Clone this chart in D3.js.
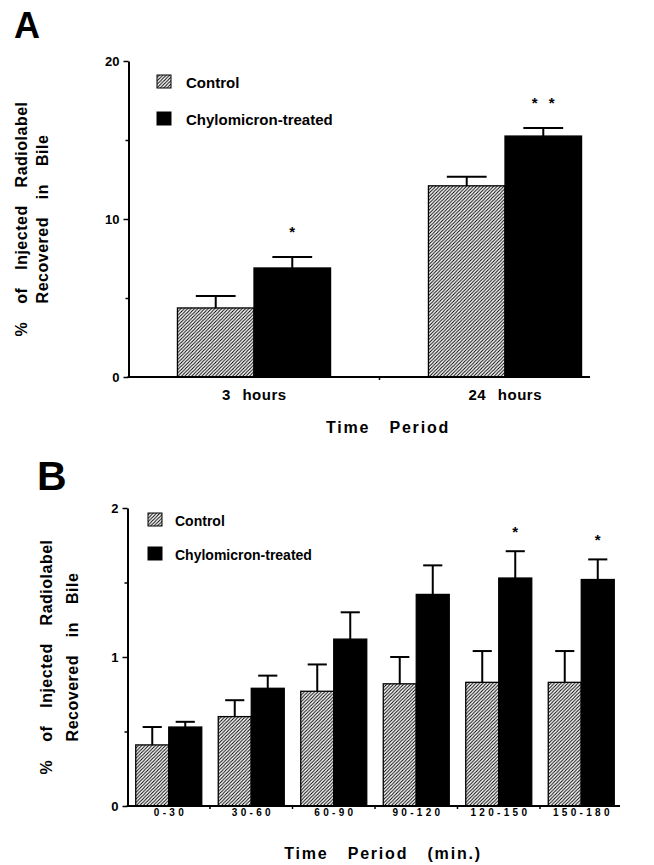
<!DOCTYPE html>
<html>
<head>
<meta charset="utf-8">
<script src="https://cdn.jsdelivr.net/npm/d3@7"></script>
<style>
body { margin: 0; background: #fff; }
text { font-family: "Liberation Sans", Arial, sans-serif; font-weight: bold; fill: #000; }
</style>
</head>
<body>
<svg id="chart"></svg>
<script>
// panel A : 3 h and 24 h
var groupsA = ["3 hours", "24 hours"];
var controlA = [4.37, 12.1];
var controlErrA = [0.76, 0.57];
var chyloA = [6.9, 15.25];
var chyloErrA = [0.7, 0.51];
var starsA = [1, 2];
var yTicksA = [0, 10, 20];
var yMinorA = [5, 15];

// panel B : 30 min periods
var groupsB = ["0-30", "30-60", "60-90", "90-120", "120-150", "150-180"];
var controlB = [0.41, 0.60, 0.77, 0.82, 0.83, 0.83];
var controlErrB = [0.12, 0.11, 0.18, 0.18, 0.21, 0.21];
var chyloB = [0.53, 0.79, 1.12, 1.42, 1.53, 1.52];
var chyloErrB = [0.035, 0.085, 0.18, 0.195, 0.18, 0.135];
var starsB = [0, 0, 0, 0, 1, 1];
var yTicksB = [0, 1, 2];
var yMinorB = [0.5, 1.5];

var legendLabels = ["Control", "Chylomicron-treated"];

var screen = {width: 654, height: 865};

var svg = d3.select("#chart")
    .attr("width", screen.width)
    .attr("height", screen.height);

// hatch for control bars
svg.append("defs").append("pattern")
    .attr("id", "hatch")
    .attr("patternUnits", "userSpaceOnUse")
    .attr("width", 3.4).attr("height", 3.4)
    .append("path")
    .attr("d", "M-1,1 l2,-2 M0,3.4 l3.4,-3.4 M2.4,4.4 l2,-2")
    .attr("stroke", "#000")
    .attr("stroke-width", 1);

var drawPanel = function(p)
{
    var g = svg.append("g");
    var x = d3.scaleBand().domain(p.groups).range(p.xRange);
    var y = d3.scaleLinear().domain(p.yDomain).range(p.yRange);
    var step = x.bandwidth();
    var bw = step * p.groupFrac / 2;
    var off = step * (1 - p.groupFrac) / 2;

    var rows = p.groups.map(function(d, i)
    {
        return {g: d, c: p.control[i], ce: p.controlErr[i], t: p.chylo[i], te: p.chyloErr[i], s: p.stars[i]};
    });

    // bars
    var bars = [];
    rows.forEach(function(r)
    {
        bars.push({x: x(r.g) + off, v: r.c, e: r.ce, fill: "url(#hatch)"});
        bars.push({x: x(r.g) + off + bw, v: r.t, e: r.te, fill: "#000"});
    });

    g.selectAll(".err").data(bars).enter().append("line")
        .attr("x1", function(d) { return d.x + bw / 2; })
        .attr("x2", function(d) { return d.x + bw / 2; })
        .attr("y1", function(d) { return y(d.v); })
        .attr("y2", function(d) { return y(d.v + d.e); })
        .attr("stroke", "#000").attr("stroke-width", 2);
    g.selectAll(".cap").data(bars).enter().append("line")
        .attr("x1", function(d) { return d.x + bw / 2 - bw * p.capFrac / 2; })
        .attr("x2", function(d) { return d.x + bw / 2 + bw * p.capFrac / 2; })
        .attr("y1", function(d) { return y(d.v + d.e); })
        .attr("y2", function(d) { return y(d.v + d.e); })
        .attr("stroke", "#000").attr("stroke-width", 2);

    g.selectAll(".bar").data(bars).enter().append("rect")
        .attr("x", function(d) { return d.x; })
        .attr("y", function(d) { return y(d.v); })
        .attr("width", bw)
        .attr("height", function(d) { return y(0) - y(d.v); })
        .attr("fill", function(d) { return d.fill; })
        .attr("stroke", "#000").attr("stroke-width", 1.3);

    // significance stars
    rows.forEach(function(r)
    {
        for (var k = 0; k < r.s; k++)
        {
            g.append("text")
                .attr("x", x(r.g) + off + bw * 1.5 + (k - (r.s - 1) / 2) * 17)
                .attr("y", y(r.t + r.te) - p.starGap)
                .attr("text-anchor", "middle")
                .style("font-size", "15px")
                .text("*");
        }
    });

    // y axis
    var yAxis = g.append("g")
        .attr("transform", "translate(" + p.xRange[0] + ",0)")
        .call(d3.axisLeft(y).tickValues(p.yTicks).tickFormat(d3.format("d"))
            .tickSize(5).tickSizeOuter(0).tickPadding(4));
    yAxis.select(".domain").attr("stroke-width", 2);
    yAxis.selectAll(".tick line").attr("stroke-width", 1.5);
    yAxis.selectAll("text").style("font-size", "13px").style("font-family", null);
    var yMinor = g.append("g")
        .attr("transform", "translate(" + p.xRange[0] + ",0)")
        .call(d3.axisLeft(y).tickValues(p.yMinor).tickSize(3).tickFormat(""));
    yMinor.select(".domain").remove();
    yMinor.selectAll(".tick line").attr("stroke-width", 1.5);

    // x axis
    g.append("line")
        .attr("x1", p.xRange[0] - 1).attr("x2", p.xAxisEnd)
        .attr("y1", y(0)).attr("y2", y(0))
        .attr("stroke", "#000").attr("stroke-width", 2);
    g.selectAll(".xtick").data(p.groups.slice(1)).enter().append("line")
        .attr("x1", function(d) { return x(d); })
        .attr("x2", function(d) { return x(d); })
        .attr("y1", y(0)).attr("y2", y(0) + 3)
        .attr("stroke", "#000").attr("stroke-width", 1.5);
    g.selectAll(".xlab").data(p.groups).enter().append("text")
        .attr("x", function(d) { return x(d) + step / 2 + p.catLs / 2; })
        .attr("y", p.catY)
        .attr("text-anchor", "middle")
        .style("font-size", p.catSize + "px")
        .style("letter-spacing", p.catLs + "px")
        .style("word-spacing", p.catWs + "px")
        .text(function(d) { return d; });

    // x title
    g.append("text")
        .attr("x", p.xTitleX).attr("y", p.xTitleY)
        .attr("text-anchor", "middle")
        .style("font-size", "16px")
        .style("letter-spacing", "1.8px")
        .style("word-spacing", "13px")
        .text(p.xTitle);

    // y title, two lines
    var cy = (p.yRange[0] + p.yRange[1]) / 2;
    p.yTitle.forEach(function(line, i)
    {
        g.append("text")
            .attr("transform", "translate(" + p.yTitleX[i] + "," + cy + ") rotate(-90)")
            .attr("text-anchor", "middle")
            .style("font-size", "16px")
            .style("letter-spacing", "0.5px")
            .style("word-spacing", "13px")
            .text(line);
    });

    // legend
    legendLabels.forEach(function(lab, i)
    {
        g.append("rect")
            .attr("x", p.legX).attr("y", p.legY[i])
            .attr("width", 14).attr("height", 13)
            .attr("fill", i == 0 ? "url(#hatch)" : "#000")
            .attr("stroke", "#000").attr("stroke-width", 1);
        g.append("text")
            .attr("x", p.legX + p.legTextDx).attr("y", p.legY[i] + 13)
            .style("font-size", p.legSize + "px")
            .text(lab);
    });

    // panel letter
    g.append("text")
        .attr("x", p.letterX).attr("y", p.letterY)
        .style("font-size", p.letterSize + "px")
        .text(p.letter);
};

drawPanel({
    groups: groupsA, control: controlA, controlErr: controlErrA,
    chylo: chyloA, chyloErr: chyloErrA, stars: starsA,
    yTicks: yTicksA, yMinor: yMinorA,
    xRange: [128.5, 630.5], xAxisEnd: 590, yDomain: [0, 20], yRange: [377, 61],
    groupFrac: 0.61, capFrac: 0.52, starGap: 20,
    catY: 400, catSize: 15, catLs: 0.5, catWs: 7,
    xTitle: "Time Period", xTitleX: 388, xTitleY: 433,
    yTitle: ["% of Injected Radiolabel", "Recovered in Bile"], yTitleX: [27, 48],
    legX: 157, legY: [75, 112], legTextDx: 29, legSize: 15,
    letter: "A", letterX: 14, letterY: 38, letterSize: 36
});

drawPanel({
    groups: groupsB, control: controlB, controlErr: controlErrB,
    chylo: chyloB, chyloErr: chyloErrB, stars: starsB,
    yTicks: yTicksB, yMinor: yMinorB,
    xRange: [127.5, 622.5], xAxisEnd: 620, yDomain: [0, 2], yRange: [806, 508],
    groupFrac: 0.80, capFrac: 0.58, starGap: 14,
    catY: 816, catSize: 10, catLs: 3.3, catWs: 0,
    xTitle: "Time Period (min.)", xTitleX: 383, xTitleY: 859,
    yTitle: ["% of Injected Radiolabel", "Recovered in Bile"], yTitleX: [52, 78],
    legX: 148, legY: [513, 547], legTextDx: 27, legSize: 14,
    letter: "B", letterX: 37, letterY: 490, letterSize: 41
});
</script>
</body>
</html>
